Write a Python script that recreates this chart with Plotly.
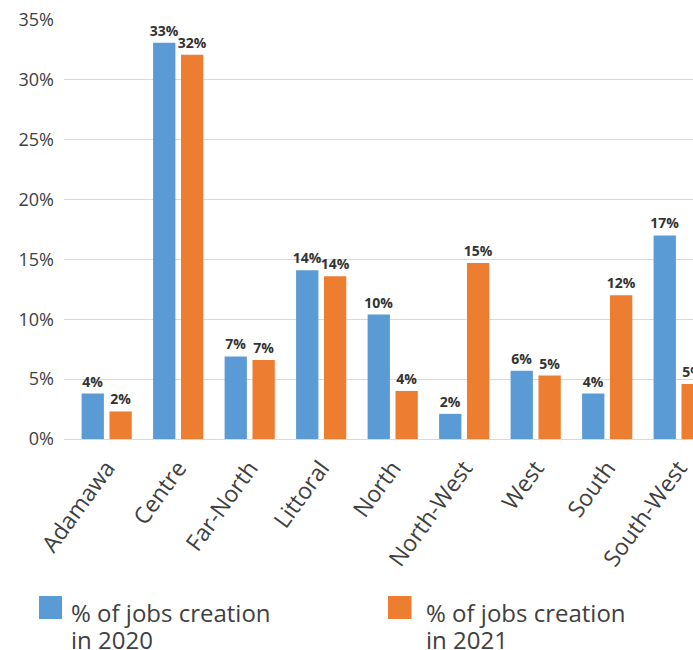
import plotly.graph_objects as go

regions = ["Adamawa", "Centre", "Far-North", "Littoral", "North", "North-West", "West", "South", "South-West"]
jobs_2020 = [3.8, 33.1, 6.9, 14.1, 10.4, 2.1, 5.7, 3.8, 17.0]
jobs_2021 = [2.3, 32.1, 6.6, 13.6, 4.0, 14.7, 5.3, 12.0, 4.6]
series_names = ["% of jobs creation<br>in 2020", "% of jobs creation<br>in 2021"]
y_tick_values = [0, 5, 10, 15, 20, 25, 30, 35]
y_tick_labels = ["0%", "5%", "10%", "15%", "20%", "25%", "30%", "35%"]

BLUE = "#5B9BD5"
ORANGE = "#ED7D31"
FONT = "Open Sans"

W, H = 693, 650
ML, MR, MT, MB = 64, 0, 20, 211
PW = W - ML - MR
PH = H - MT - MB

fig = go.Figure()
for vals, name, col in [(jobs_2020, series_names[0], BLUE), (jobs_2021, series_names[1], ORANGE)]:
    fig.add_trace(go.Bar(
        x=regions, y=vals, name=name,
        marker=dict(color=col, line=dict(width=0)),
        texttemplate="%{y:.0f}%", textposition="outside", constraintext="none",
        textfont=dict(family=FONT, size=14, color="#333333", weight="bold"),
        cliponaxis=False, showlegend=False,
    ))

fig.update_layout(
    width=W, height=H,
    margin=dict(l=ML, r=MR, t=MT, b=MB, autoexpand=False),
    paper_bgcolor="white", plot_bgcolor="white",
    barmode="group", bargap=0.22, bargroupgap=0.2,
    font=dict(family=FONT, color="#404040"),
)
fig.update_xaxes(
    range=[-0.597, 8.2], tickangle=-54,
    tickfont=dict(family=FONT, size=23, color="#404040"),
    showgrid=False, showline=False, ticks="", ticklabelstandoff=10,
)
fig.update_yaxes(
    range=[0, 35], tickmode="array", tickvals=y_tick_values, ticktext=y_tick_labels,
    tickfont=dict(family=FONT, size=18, color="#404040"),
    showgrid=True, gridcolor="#D9D9D9", gridwidth=1,
    zeroline=True, zerolinecolor="#D9D9D9", zerolinewidth=1,
    showline=False, ticks="", ticklabelstandoff=9,
)

def px_x(px):
    return (px - ML) / PW

def px_y(py):
    return (H - MB - py) / PH

legend_items = [(39, 62, 69, BLUE, series_names[0]), (388, 411.5, 424, ORANGE, series_names[1])]
for x0, x1, tx, col, name in legend_items:
    fig.add_shape(type="rect", xref="paper", yref="paper",
                  x0=px_x(x0), x1=px_x(x1), y0=px_y(619), y1=px_y(596),
                  fillcolor=col, line=dict(width=0))
    for i, line in enumerate(name.split("<br>")):
        fig.add_annotation(xref="paper", yref="paper", x=px_x(tx), y=px_y(612 + 27 * i),
                           xanchor="left", yanchor="middle", align="left", showarrow=False,
                           text=line, font=dict(family=FONT, size=24, color="#404040"))

fig.write_html("out.html", config={"displayModeBar": False},
               post_script="document.body.style.margin='0';document.body.style.overflow='hidden';")
